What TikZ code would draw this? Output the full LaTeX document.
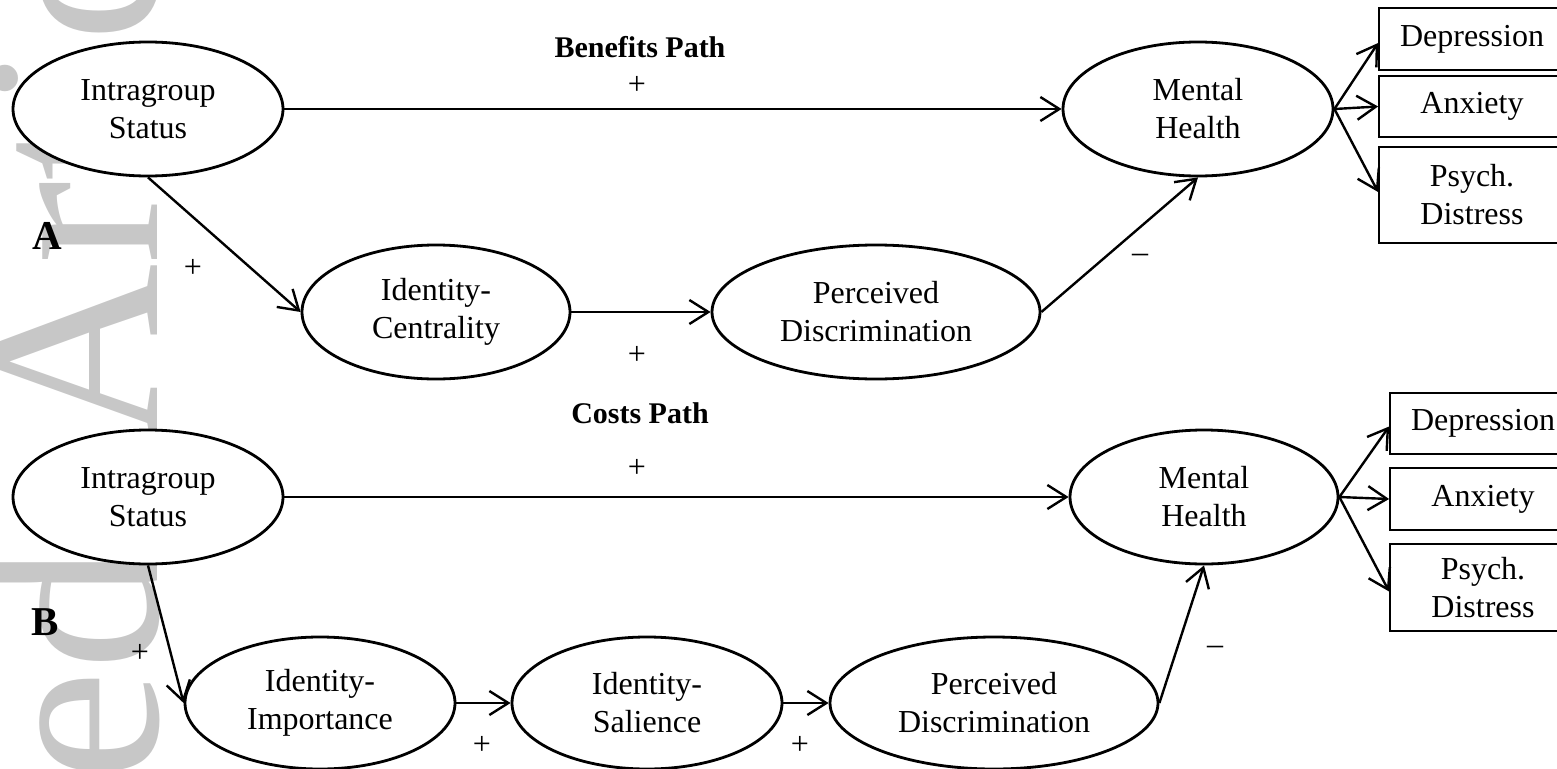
\documentclass[tikz,border=0pt]{standalone}
\usepackage{fontspec}
\setmainfont{Liberation Serif}
\usetikzlibrary{shapes.geometric,arrows.meta}
\definecolor{wmgray}{RGB}{199,199,199}
\tikzset{
  ell/.style={ellipse, draw, line width=2.8pt, fill=white, inner sep=0pt, align=center,
    font=\fontsize{32}{38}\selectfont},
  box/.style={rectangle, draw, line width=1.8pt, inner sep=0pt, align=center,
    font=\fontsize{32}{38}\selectfont, minimum width=186pt},
  conn/.style={line width=2.4pt, -{Straight Barb[length=19pt,width=24pt]}},
  sign/.style={font=\fontsize{32}{38}\selectfont, inner sep=0pt},
  head/.style={font=\bfseries\fontsize{30}{36}\selectfont, inner sep=0pt},
  panel/.style={font=\bfseries\fontsize{41}{48}\selectfont, inner sep=0pt},
  wm/.style={text=wmgray, font=\fontsize{250}{250}\selectfont, inner sep=0pt, rotate=90}
}
\begin{document}
\begin{tikzpicture}[x=1pt,y=-1pt]
\useasboundingbox (0,0) rectangle (1557,768);
\clip (0,0) rectangle (1557,768);
% watermark
\node[wm, anchor=base west] (wmA) at (157,445) {Article};
\node[wm, anchor=base east] (wmB) at (157,545) {Accepted};

% ---------- Panel A ----------
\node[panel] (labA) at (47,236) {A};
\node[head] (benefits) at (640,47) {Benefits Path};
\node[ell, minimum width=270pt, minimum height=134pt] (ia) at (148,109) {Intragroup\\Status};
\node[ell, minimum width=270pt, minimum height=134pt] (mha) at (1198,109) {Mental\\Health};
\node[ell, minimum width=268pt, minimum height=134pt] (ic) at (436,312) {Identity-\\Centrality};
\node[ell, minimum width=328pt, minimum height=134pt] (pda) at (876,312) {Perceived\\Discrimination};
\node[box, minimum height=62pt] (depA) at (1472,39) {Depression};
\node[box, minimum height=61pt] (anxA) at (1472,106.5) {Anxiety};
\node[box, minimum height=96pt] (psyA) at (1472,195) {Psych.\\Distress};

\draw[conn] (ia.east) -- (mha.west);
\draw[conn] (ia.south) -- (ic.west);
\draw[conn] (ic.east) -- (pda.west);
\draw[conn] (pda.east) -- (mha.south);
\draw[conn] (mha.east) -- ([yshift=-4pt]depA.west);
\draw[conn] (mha.east) -- (anxA.west);
\draw[conn] (mha.east) -- ([yshift=3pt]psyA.west);

\node[sign] (pA1) at (637,85) {+};
\node[sign] (pA2) at (193,268) {+};
\node[sign] (pA3) at (637,355) {+};
\node[sign] (mA1) at (1140,258) {–};

% ---------- Panel B ----------
\node[panel] (labB) at (45,622) {B};
\node[head] (costs) at (640,413) {Costs Path};
\node[ell, minimum width=270pt, minimum height=134pt] (ib) at (148,497) {Intragroup\\Status};
\node[ell, minimum width=268pt, minimum height=134pt] (mhb) at (1204,497) {Mental\\Health};
\node[ell, minimum width=270pt, minimum height=132pt] (ii) at (320,703) {Identity-\\Importance};
\node[ell, minimum width=270pt, minimum height=132pt] (is) at (647,703) {Identity-\\Salience};
\node[ell, minimum width=328pt, minimum height=132pt] (pdb) at (994,703) {Perceived\\Discrimination};
\node[box, minimum height=61pt] (depB) at (1483,423.5) {Depression};
\node[box, minimum height=62pt] (anxB) at (1483,499) {Anxiety};
\node[box, minimum height=87pt] (psyB) at (1483,587.5) {Psych.\\Distress};

\draw[conn] (ib.east) -- (mhb.west);
\draw[conn] (ib.south) -- (ii.west);
\draw[conn] (ii.east) -- (is.west);
\draw[conn] (is.east) -- (pdb.west);
\draw[conn] (pdb.east) -- (mhb.south);
\draw[conn] (mhb.east) -- ([yshift=-3pt]depB.west);
\draw[conn] (mhb.east) -- (anxB.west);
\draw[conn] (mhb.east) -- ([yshift=-4pt]psyB.west);

\node[sign] (pB1) at (637,468) {+};
\node[sign] (pB2) at (140,653) {+};
\node[sign] (pB3) at (482,745) {+};
\node[sign] (pB4) at (800,745) {+};
\node[sign] (mB1) at (1215,650) {–};
\end{tikzpicture}
\end{document}
